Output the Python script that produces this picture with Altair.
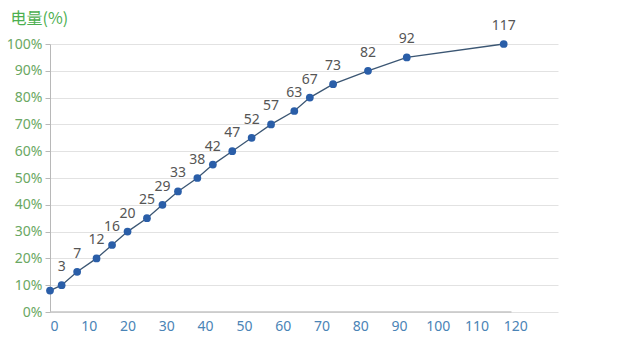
import altair as alt
import pandas as pd

minutes = [0, 3, 7, 12, 16, 20, 25, 29, 33, 38, 42, 47, 52, 57, 63, 67, 73, 82, 92, 117]
battery = [8, 10, 15, 20, 25, 30, 35, 40, 45, 50, 55, 60, 65, 70, 75, 80, 85, 90, 95, 100]
point_labels = ["", "3", "7", "12", "16", "20", "25", "29", "33", "38", "42", "47", "52",
                "57", "63", "67", "73", "82", "92", "117"]
x_ticks = [0, 10, 20, 30, 40, 50, 60, 70, 80, 90, 100, 110, 120]
y_ticks = [0, 10, 20, 30, 40, 50, 60, 70, 80, 90, 100]

df = pd.DataFrame({"t": minutes, "b": battery, "lab": point_labels})
axis_df = pd.DataFrame({"t": [0], "t2": [119], "b": [0]})

FONT = "Noto Sans"

x_scale = alt.Scale(domain=[0, 131], nice=False, zero=False)
y_scale = alt.Scale(domain=[0, 100], nice=False)

x_enc = alt.X("t:Q", scale=x_scale,
              axis=alt.Axis(values=x_ticks, domain=False, ticks=False, grid=False,
                            labelColor="#4a84b6", labelFontSize=14, labelFont=FONT,
                            labelOverlap=False, labelPadding=7, title=None))
y_enc = alt.Y("b:Q", scale=y_scale,
              axis=alt.Axis(values=y_ticks, labelExpr="datum.value + '%'",
                            labelOverlap=False,
                            labelColor="#6aa863", labelFontSize=14, labelFont=FONT,
                            domainColor="#b8b8b8", tickColor="#b8b8b8", tickSize=5,
                            labelPadding=3,
                            gridColor="#e2e2e2", grid=True,
                            title="电量(%)", titleAngle=0, titleColor="#4caf50",
                            titleFont="Noto Sans CJK SC", titleFontSize=16,
                            titleFontWeight="normal",
                            titleAlign="left", titleBaseline="middle",
                            titleX=-40, titleY=-26))

xaxis_line = alt.Chart(axis_df).mark_rule(color="#c4c4c4", strokeWidth=1.5).encode(
    x=x_enc, x2="t2:Q", y=y_enc)
line = alt.Chart(df).mark_line(color="#3b5673", strokeWidth=1.3).encode(x=x_enc, y=y_enc)
pts = alt.Chart(df).mark_circle(size=60, color="#2a5ea8", opacity=1).encode(x=x_enc, y=y_enc)
txt = alt.Chart(df).mark_text(baseline="bottom", dy=-11, fontSize=14, font=FONT,
                              color="#555555").encode(x=x_enc, y=y_enc, text="lab:N")

chart = alt.layer(xaxis_line, line, pts, txt).properties(
    width=508, height=268,
    autosize=alt.AutoSizeParams(type="none"),
    padding={"left": 50, "top": 44, "right": 82, "bottom": 42},
    background="white",
).configure_view(stroke=None)

chart.save("out.html", embed_options={"renderer": "svg", "actions": False})
